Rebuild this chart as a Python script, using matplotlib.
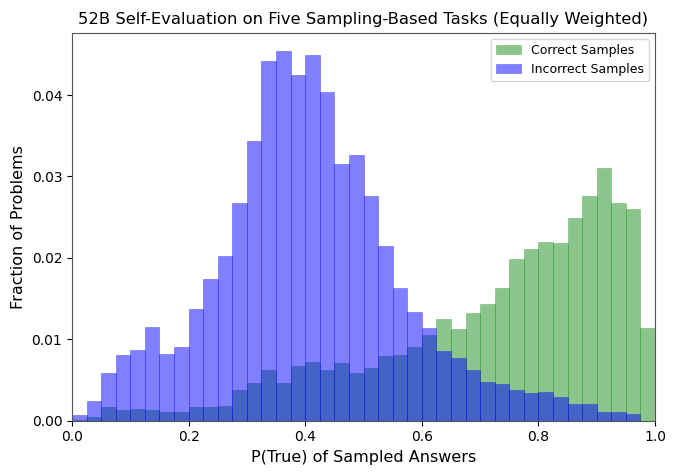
import numpy as np
import matplotlib
matplotlib.use("Agg")
import matplotlib.pyplot as plt

# DATA: 40 bins of width 0.025 over P(True)
bin_edges = np.linspace(0, 1, 41)
bin_centers = (bin_edges[:-1] + bin_edges[1:]) / 2

correct_frac = [0.0001, 0.0004, 0.0017, 0.00135, 0.00144, 0.00135, 0.0010, 0.0011,
                0.0017, 0.0017, 0.0018, 0.0038, 0.0046, 0.0062, 0.0046, 0.0067,
                0.0072, 0.0062, 0.0071, 0.0059, 0.0065, 0.0079, 0.0081, 0.0090,
                0.0105, 0.01244, 0.0113, 0.01326, 0.01429, 0.01634, 0.0198, 0.0211,
                0.0219, 0.0218, 0.0249, 0.0276, 0.0310, 0.0268, 0.0260, 0.0114]

incorrect_frac = [0.0007, 0.00246, 0.00579, 0.0080, 0.0087, 0.01154, 0.00813, 0.00903,
                  0.01375, 0.01736, 0.0202, 0.0268, 0.0344, 0.0442, 0.0454, 0.0425,
                  0.0449, 0.0404, 0.0315, 0.0326, 0.0276, 0.0215, 0.0163, 0.0134,
                  0.0114, 0.0085, 0.00764, 0.00616, 0.00472, 0.00447, 0.0037, 0.00337,
                  0.00349, 0.00283, 0.0020, 0.0020, 0.00099, 0.0011, 0.00086, 0.0]

fig = plt.figure(figsize=(6.8, 4.75), dpi=100)
ax = fig.add_axes([0.1059, 0.1147, 0.8574, 0.8164])

ax.hist(bin_centers, bins=bin_edges, weights=correct_frac, color="green", alpha=0.45,
        edgecolor="green", linewidth=0.4, label="Correct Samples")
ax.hist(bin_centers, bins=bin_edges, weights=incorrect_frac, color="blue", alpha=0.5,
        edgecolor="blue", linewidth=0.4, label="Incorrect Samples")

ax.set_xlim(0, 1)
ax.set_xticks([0.0, 0.2, 0.4, 0.6, 0.8, 1.0])
ax.set_yticks([0.0, 0.01, 0.02, 0.03, 0.04])
ax.tick_params(labelsize=10)
ax.set_xlabel("P(True) of Sampled Answers", fontsize=11.5)
ax.set_ylabel("Fraction of Problems", fontsize=11.5)
ax.set_title("52B Self-Evaluation on Five Sampling-Based Tasks (Equally Weighted)", fontsize=11.75)
ax.legend(loc="upper right", fontsize=9)
for s in ax.spines.values():
    s.set_color("#555555")

fig.savefig("out.png", dpi=100)
